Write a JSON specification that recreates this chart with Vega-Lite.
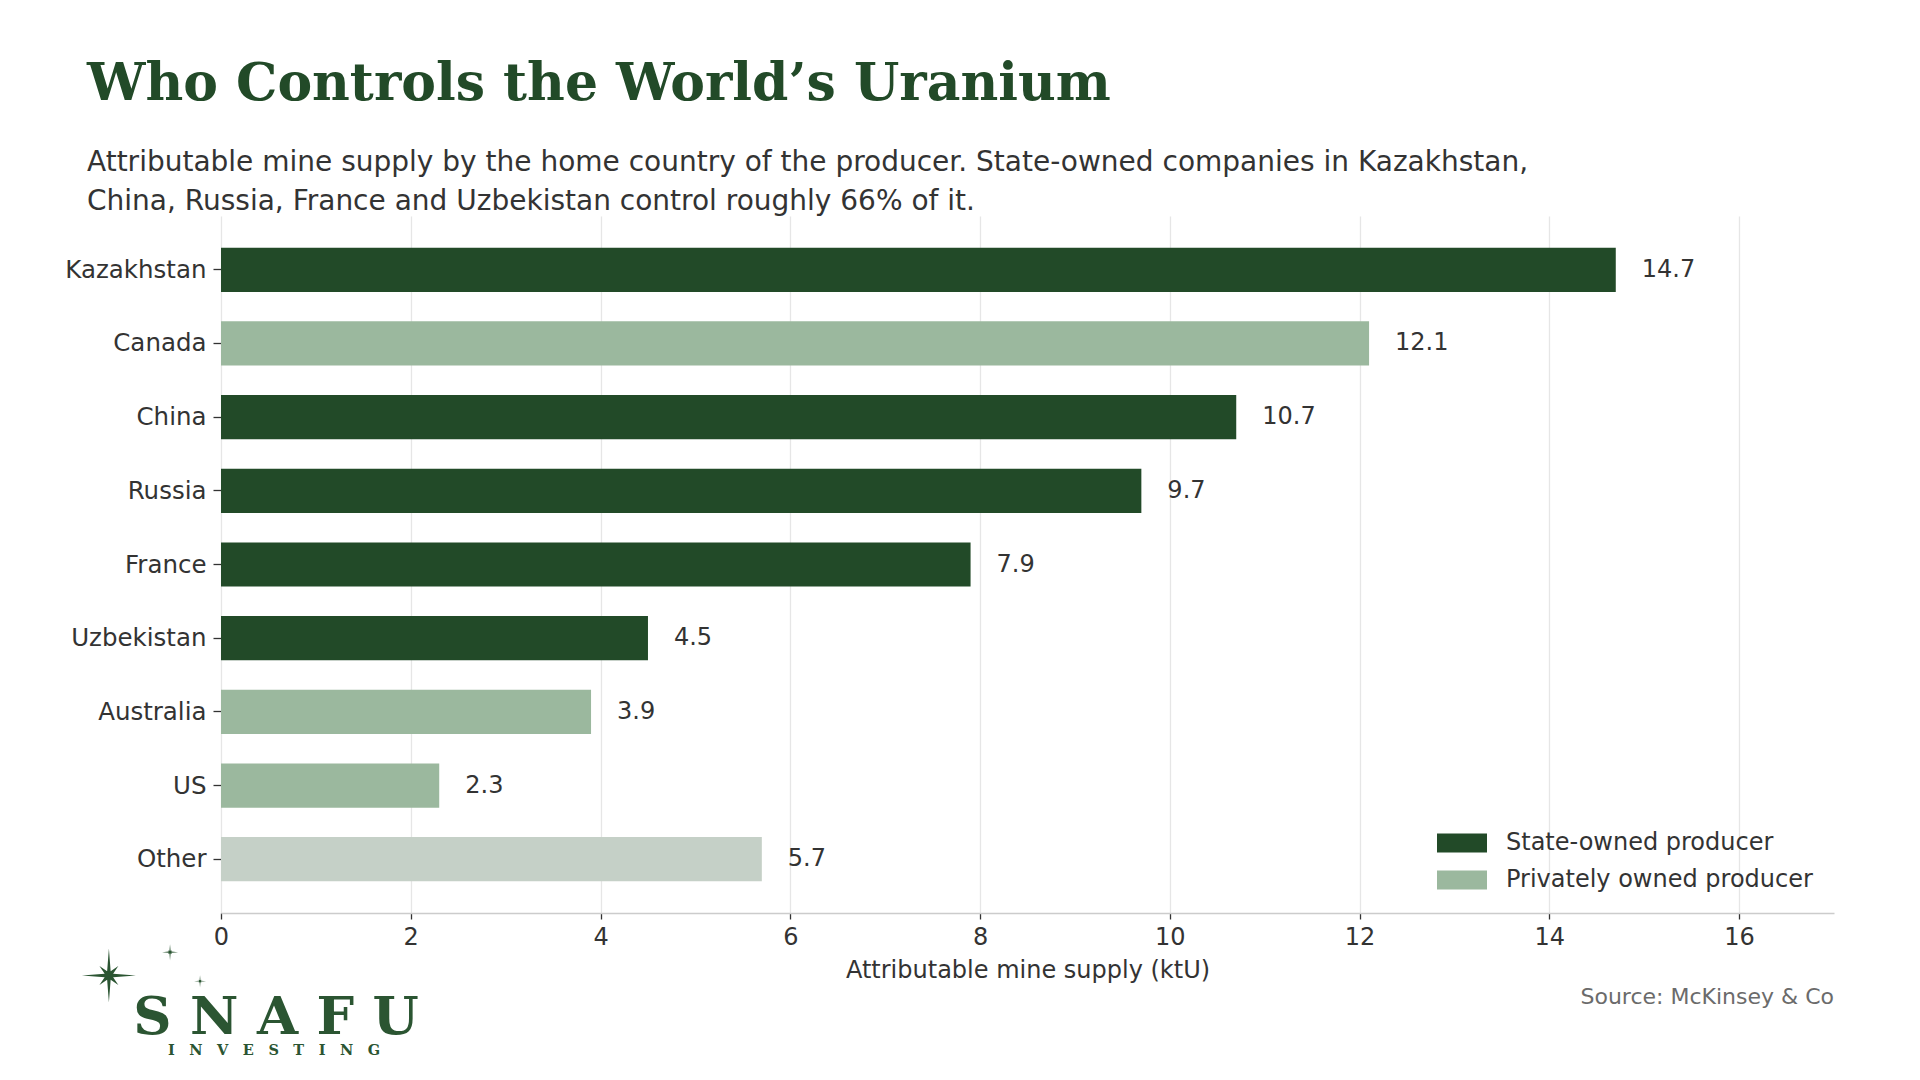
{
  "$schema": "https://vega.github.io/schema/vega-lite/v6.json",
  "width": 1613,
  "height": 697,
  "padding": {"left": 64, "top": 57, "right": 10, "bottom": 10},
  "background": "white",
  "title": {
    "text": "Who Controls the World’s Uranium",
    "subtitle": [
      "Attributable mine supply by the home country of the producer. State-owned companies in Kazakhstan,",
      "China, Russia, France and Uzbekistan control roughly 66% of it."
    ],
    "anchor": "start",
    "frame": "group",
    "dx": -134,
    "font": "DejaVu Serif",
    "fontSize": 52,
    "fontWeight": "bold",
    "color": "#224a28",
    "subtitleFont": "DejaVu Sans",
    "subtitleFontSize": 28,
    "subtitleColor": "#333333",
    "subtitleLineHeight": 39,
    "subtitlePadding": 38.5,
    "offset": -1
  },
  "config": {
    "view": {"stroke": null},
    "font": "DejaVu Sans",
    "legend": {
      "symbolType": "M-1,-0.38H1V0.38H-1Z",
      "symbolSize": 2500,
      "symbolStrokeWidth": 0,
      "symbolOpacity": 1,
      "labelOffset": 19,
      "labelFontSize": 24,
      "labelColor": "#333333",
      "labelLimit": 600,
      "rowPadding": -1,
      "padding": 0
    }
  },
  "datasets": {
    "supply": [
      {"country": "Kazakhstan", "ktU": 14.7, "owner": "State-owned producer"},
      {"country": "Canada", "ktU": 12.1, "owner": "Privately owned producer"},
      {"country": "China", "ktU": 10.7, "owner": "State-owned producer"},
      {"country": "Russia", "ktU": 9.7, "owner": "State-owned producer"},
      {"country": "France", "ktU": 7.9, "owner": "State-owned producer"},
      {"country": "Uzbekistan", "ktU": 4.5, "owner": "State-owned producer"},
      {"country": "Australia", "ktU": 3.9, "owner": "Privately owned producer"},
      {"country": "US", "ktU": 2.3, "owner": "Privately owned producer"},
      {"country": "Other", "ktU": 5.7, "owner": "Other"}
    ],
    "logo": [
      {"item": "star", "kind": "big", "u": -0.0695, "v": -0.0896, "sz": 2916},
      {"item": "star", "kind": "small", "u": -0.0316, "v": -0.0562, "sz": 256},
      {"item": "star", "kind": "small", "u": -0.013, "v": -0.0978, "sz": 144},
      {"item": "name", "label": "S N A F U", "u": 0.0341, "v": -0.1738},
      {"item": "tag", "label": "I\u2003N\u2003V\u2003E\u2003S\u2003T\u2003I\u2003N\u2003G", "u": 0.0329, "v": -0.204},
      {"item": "source", "label": "Source: McKinsey & Co", "u": 1, "v": -0.1308}
    ]
  },
  "layer": [
    {
      "data": {"name": "supply"},
      "encoding": {
        "y": {
          "field": "country",
          "type": "nominal",
          "sort": null,
          "scale": {"paddingInner": 0.4, "paddingOuter": 0.43},
          "axis": {
            "title": null,
            "domain": false,
            "labelFontSize": 24.5,
            "labelColor": "#333333",
            "labelPadding": 7,
            "labelBaseline": "middle",
            "labelOffset": 1,
            "tickSize": 8,
            "tickWidth": 1.3,
            "tickColor": "#333333"
          }
        },
        "x": {
          "field": "ktU",
          "type": "quantitative",
          "scale": {"domain": [0, 17], "nice": false},
          "axis": {
            "title": "Attributable mine supply (ktU)",
            "values": [0, 2, 4, 6, 8, 10, 12, 14, 16],
            "labelFlush": false,
            "labelFontSize": 24,
            "labelColor": "#333333",
            "labelPadding": 6,
            "tickSize": 6,
            "tickWidth": 1.3,
            "tickColor": "#333333",
            "domainColor": "#cccccc",
            "domainWidth": 1.5,
            "gridColor": "#e6e6e6",
            "gridWidth": 1.3,
            "titleFontSize": 24,
            "titleFontWeight": "normal",
            "titleColor": "#333333",
            "titlePadding": 9
          }
        }
      },
      "layer": [
        {
          "mark": {"type": "bar"},
          "encoding": {
            "color": {
              "field": "owner",
              "type": "nominal",
              "scale": {
                "domain": ["State-owned producer", "Privately owned producer", "Other"],
                "range": ["#224a28", "#9bb89e", "#c5d0c7"]
              },
              "legend": {
                "title": null,
                "values": ["State-owned producer", "Privately owned producer"],
                "orient": "bottom-right",
                "offset": 21
              }
            }
          }
        },
        {
          "mark": {"type": "text", "align": "left", "baseline": "middle", "dx": 26, "fontSize": 24, "color": "#333333"},
          "encoding": {
            "text": {"field": "ktU", "type": "quantitative", "format": ".1f"}
          }
        }
      ]
    },
    {
      "data": {"name": "logo"},
      "encoding": {
        "x": {"field": "u", "type": "quantitative", "scale": {"domain": [0, 1], "nice": false, "zero": false}, "axis": null},
        "y": {"field": "v", "type": "quantitative", "scale": {"domain": [0, 1], "nice": false, "zero": false}, "axis": null}
      },
      "layer": [
        {
          "transform": [{"filter": "datum.item === 'star'"}],
          "mark": {"type": "point", "filled": true, "opacity": 1, "strokeWidth": 0, "color": "#2b5532"},
          "encoding": {
            "shape": {
              "field": "kind",
              "type": "nominal",
              "scale": {
                "domain": ["big", "small"],
                "range": [
                  "M0,-1L0.065,-0.157L0.35,-0.35L0.157,-0.065L1,0L0.157,0.065L0.35,0.35L0.065,0.157L0,1L-0.065,0.157L-0.35,0.35L-0.157,0.065L-1,0L-0.157,-0.065L-0.35,-0.35L-0.065,-0.157Z",
                  "M0,-1L0.07,-0.17L0.22,-0.22L0.17,-0.07L1,0L0.17,0.07L0.22,0.22L0.07,0.17L0,1L-0.07,0.17L-0.22,0.22L-0.17,0.07L-1,0L-0.17,-0.07L-0.22,-0.22L-0.07,-0.17Z"
                ]
              },
              "legend": null
            },
            "size": {"field": "sz", "type": "quantitative", "scale": null}
          }
        },
        {
          "transform": [{"filter": "datum.item === 'name'"}],
          "mark": {"type": "text", "align": "center", "baseline": "alphabetic", "font": "DejaVu Serif", "fontWeight": "bold", "fontSize": 53, "color": "#2b5532"},
          "encoding": {"text": {"field": "label"}}
        },
        {
          "transform": [{"filter": "datum.item === 'tag'"}],
          "mark": {"type": "text", "align": "center", "baseline": "alphabetic", "font": "DejaVu Serif", "fontWeight": "bold", "fontSize": 14.5, "color": "#2b5532"},
          "encoding": {"text": {"field": "label"}}
        },
        {
          "transform": [{"filter": "datum.item === 'source'"}],
          "mark": {"type": "text", "align": "right", "baseline": "alphabetic", "fontSize": 22, "color": "#6b6b6b"},
          "encoding": {"text": {"field": "label"}}
        }
      ]
    }
  ],
  "resolve": {"scale": {"x": "independent", "y": "independent"}}
}
